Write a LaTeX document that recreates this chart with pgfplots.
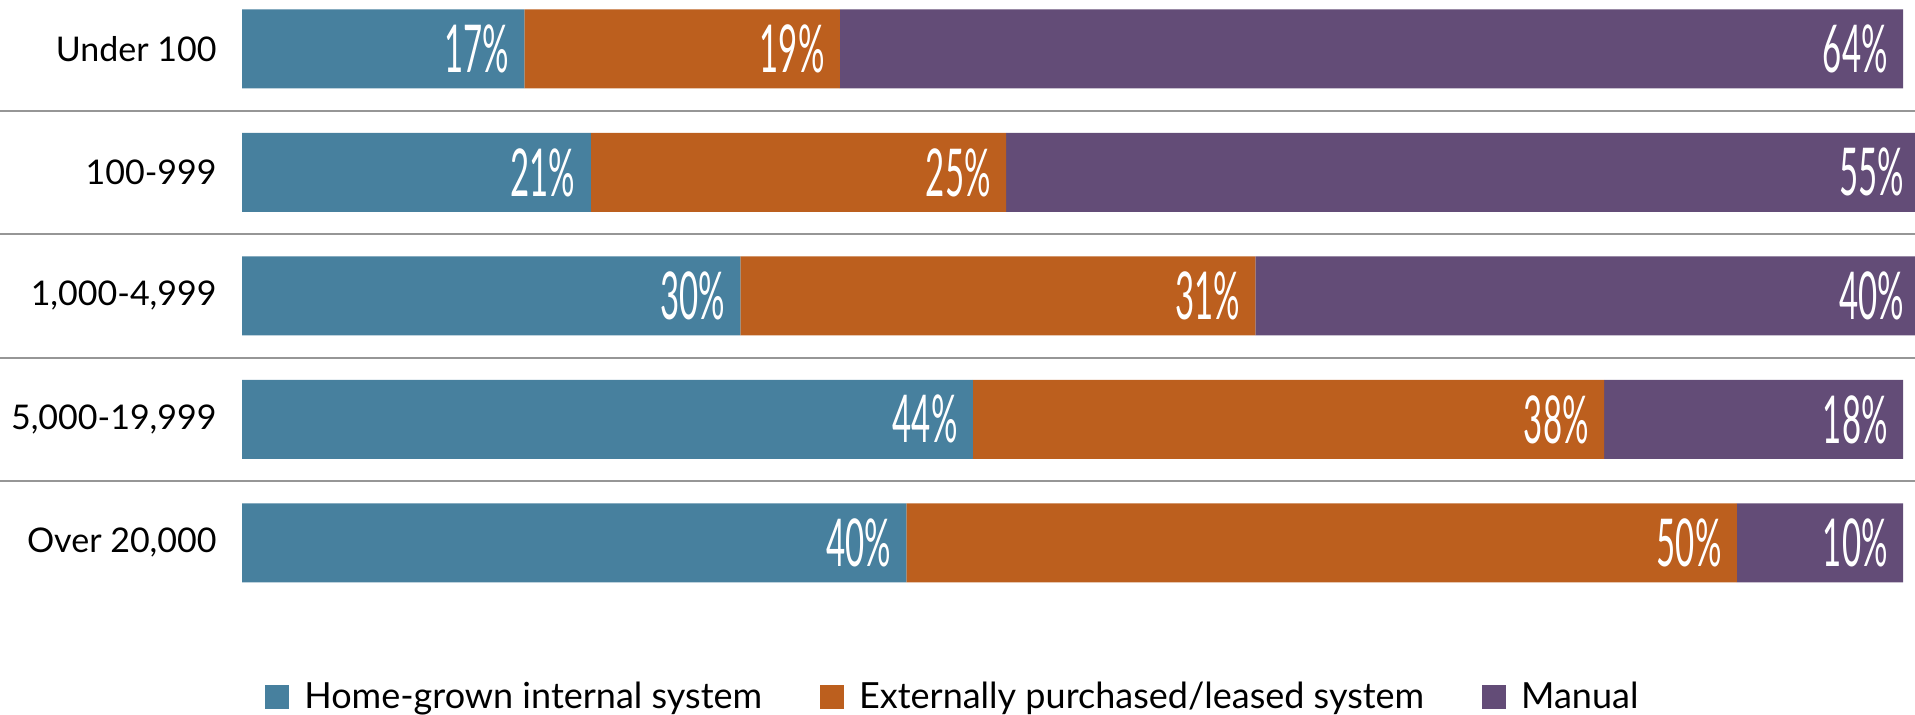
\documentclass[border=0pt]{standalone}
\usepackage{pgfplots}
\pgfplotsset{compat=1.18}
\usepackage{fontspec}
\setmainfont{Lato}
\newfontfamily\cond[FakeStretch=0.5]{Lato}
\definecolor{cblue}{RGB}{71,128,158}
\definecolor{corange}{RGB}{188,95,30}
\definecolor{cpurple}{RGB}{99,76,119}
\definecolor{sepgray}{RGB}{150,150,150}
\begin{document}
\begin{tikzpicture}
\begin{axis}[
  at={(121pt,0pt)}, anchor=north west,
  scale only axis, width=836.5pt, height=302.3pt,
  xbar stacked, bar width=39.5pt,
  xmin=0, xmax=100.72, ymin=-0.5, ymax=4.396,
  clip=false,
  axis line style={draw=none},
  xtick=\empty, ytick={0,1,2,3,4},
  yticklabels={{Over 20,000},{5,000-19,999},{1,000-4,999},{100-999},{Under 100}},
  major tick length=0pt,
  yticklabel style={font=\fontsize{17}{20}\selectfont, inner sep=0pt, xshift=-12.5pt},
  point meta=explicit symbolic,
  visualization depends on={rawx \as \rawx},
  nodes near coords={\pgfplotspointmeta\%},
  every node near coord/.append style={font=\cond\fontsize{33}{36}\selectfont, text=white, anchor=east, xshift=\rawx*4.1526pt-7.5pt, inner sep=0pt},
  legend columns=3,
  legend style={draw=none, fill=none, at={(axis description cs:0.0101,-0.1527)}, anchor=west,
    font=\fontsize{18}{20}\selectfont,
    /tikz/every odd column/.append style={column sep=5.5pt},
    /tikz/every even column/.append style={column sep=27pt}},
  legend image code/.code={\fill (0pt,-6pt) rectangle (12pt,6pt);},
  legend cell align=left,
]
\addplot[fill=cblue, draw=none] coordinates {(40,0)[40] (44,1)[44] (30,2)[30] (21,3)[21] (17,4)[17]};
\addplot[fill=corange, draw=none] coordinates {(50,0)[50] (38,1)[38] (31,2)[31] (25,3)[25] (19,4)[19]};
\addplot[fill=cpurple, draw=none] coordinates {(10,0)[10] (18,1)[18] (40,2)[40] (55,3)[55] (64,4)[64]};
\legend{Home-grown internal system, Externally purchased/leased system, Manual}
\draw[sepgray, line width=1pt] ([xshift=-121pt]axis cs:0,0.5) -- (axis cs:100.72,0.5);
\draw[sepgray, line width=1pt] ([xshift=-121pt]axis cs:0,1.5) -- (axis cs:100.72,1.5);
\draw[sepgray, line width=1pt] ([xshift=-121pt]axis cs:0,2.5) -- (axis cs:100.72,2.5);
\draw[sepgray, line width=1pt] ([xshift=-121pt]axis cs:0,3.5) -- (axis cs:100.72,3.5);
\end{axis}
\pgfresetboundingbox
\path (0,0) rectangle (957.5pt,-357.5pt);
\end{tikzpicture}
\end{document}
